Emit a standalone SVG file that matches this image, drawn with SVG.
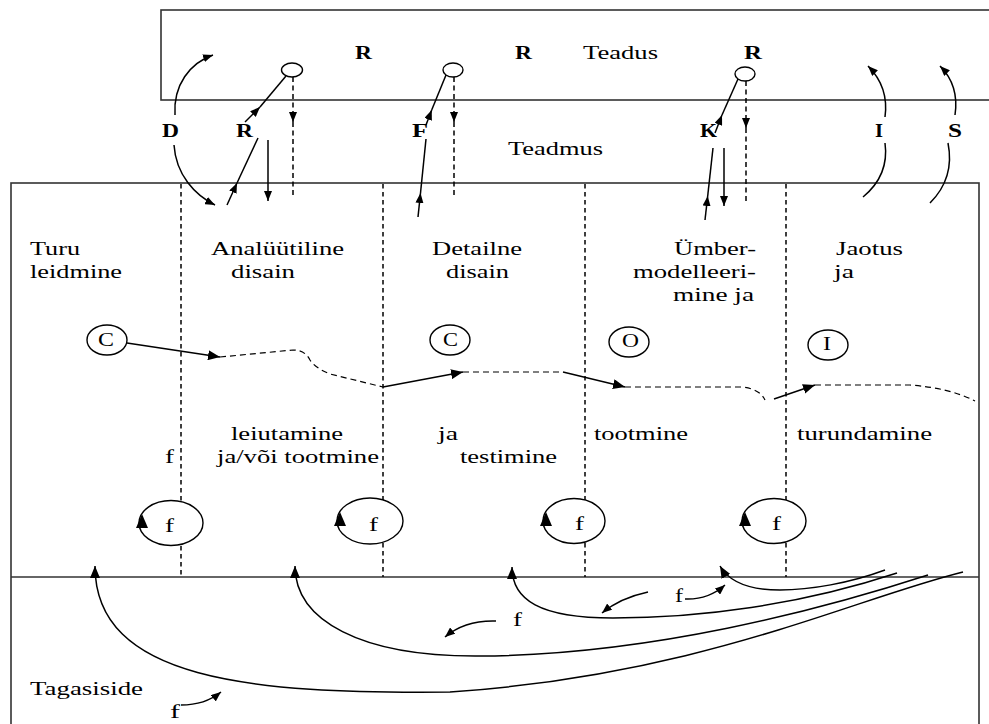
<svg xmlns="http://www.w3.org/2000/svg" width="989" height="724" viewBox="0 0 989 724" font-family="'Liberation Serif', 'Times New Roman', 'DejaVu Serif', serif">
<style>
text{font-family:'Liberation Serif','Times New Roman','DejaVu Serif',serif;font-size:19px;fill:#000}
.b{font-weight:bold}
.box{fill:none;stroke:#333;stroke-width:1.6}
.ln{fill:none;stroke:#000;stroke-width:1.5}
.dl{fill:none;stroke:#000;stroke-width:1.5;stroke-dasharray:5,3.5}
.dc{fill:none;stroke:#000;stroke-width:1.2;stroke-dasharray:6,4}
.sep{fill:none;stroke:#000;stroke-width:1.5;stroke-dasharray:4.5,3.5}
.el{fill:#fff;stroke:#000;stroke-width:1.4}
.tri{fill:#000}
</style>
<defs>
<marker id="ah" viewBox="0 0 12 10" refX="12" refY="5" markerWidth="12" markerHeight="10" markerUnits="userSpaceOnUse" orient="auto"><path d="M0,0 L12,5 L0,10 z" fill="#000" stroke="none"/></marker>
<marker id="as" viewBox="0 0 10 8" refX="10" refY="4" markerWidth="10" markerHeight="8" markerUnits="userSpaceOnUse" orient="auto"><path d="M0,0 L10,4 L0,8 z" fill="#000" stroke="none"/></marker>
</defs>
<rect width="989" height="724" fill="#fff"/>

<g id="science">
<rect class="box" x="161" y="10" width="850" height="90"/>
<text x="583" y="59" textLength="75" lengthAdjust="spacingAndGlyphs">Teadus</text>
<text class="b" x="355" y="59" textLength="17" lengthAdjust="spacingAndGlyphs">R</text>
<text class="b" x="515" y="59" textLength="17" lengthAdjust="spacingAndGlyphs">R</text>
<text class="b" x="744" y="59" textLength="18" lengthAdjust="spacingAndGlyphs">R</text>
</g>

<g id="knowledge">
<text x="508" y="155" textLength="95" lengthAdjust="spacingAndGlyphs">Teadmus</text>
</g>

<g id="main-frame">
<rect class="box" x="11" y="183" width="968" height="580"/>
<line class="box" x1="11" y1="577" x2="979" y2="577"/>
</g>

<g id="stage-separators">
<line class="sep" x1="181" y1="184" x2="181" y2="501"/>
<line class="sep" x1="181" y1="546" x2="181" y2="577"/>
<line class="sep" x1="383" y1="184" x2="383" y2="500"/>
<line class="sep" x1="383" y1="543" x2="383" y2="577"/>
<line class="sep" x1="585" y1="184" x2="585" y2="500"/>
<line class="sep" x1="585" y1="543" x2="585" y2="577"/>
<line class="sep" x1="786" y1="184" x2="786" y2="500"/>
<line class="sep" x1="786" y1="543" x2="786" y2="577"/>
</g>

<g id="stage-market">
<text x="30" y="255" textLength="50" lengthAdjust="spacingAndGlyphs">Turu</text>
<text x="30" y="278" textLength="92" lengthAdjust="spacingAndGlyphs">leidmine</text>
<ellipse class="el" cx="107" cy="340" rx="20" ry="15"/>
<text x="98" y="346" textLength="16" lengthAdjust="spacingAndGlyphs">C</text>
<text x="165" y="463" textLength="9" lengthAdjust="spacingAndGlyphs">f</text>
</g>

<g id="stage-analytic">
<text x="211" y="255" textLength="133" lengthAdjust="spacingAndGlyphs">Analüütiline</text>
<text x="231" y="278" textLength="64" lengthAdjust="spacingAndGlyphs">disain</text>
<text x="231" y="440" textLength="112" lengthAdjust="spacingAndGlyphs">leiutamine</text>
<text x="217" y="463" textLength="162" lengthAdjust="spacingAndGlyphs">ja/või tootmine</text>
</g>

<g id="stage-detail">
<text x="432" y="255" textLength="90" lengthAdjust="spacingAndGlyphs">Detailne</text>
<text x="446" y="278" textLength="63" lengthAdjust="spacingAndGlyphs">disain</text>
<ellipse class="el" cx="450" cy="340" rx="20" ry="15"/>
<text x="443" y="346" textLength="15" lengthAdjust="spacingAndGlyphs">C</text>
<text x="438" y="440" textLength="20" lengthAdjust="spacingAndGlyphs">ja</text>
<text x="460" y="463" textLength="97" lengthAdjust="spacingAndGlyphs">testimine</text>
</g>

<g id="stage-redesign">
<text x="674" y="255" textLength="82" lengthAdjust="spacingAndGlyphs">Ümber-</text>
<text x="633" y="278" textLength="123" lengthAdjust="spacingAndGlyphs">modelleeri-</text>
<text x="673" y="301" textLength="81" lengthAdjust="spacingAndGlyphs">mine ja</text>
<ellipse class="el" cx="629" cy="342" rx="20" ry="15"/>
<text x="622" y="347" textLength="17" lengthAdjust="spacingAndGlyphs">O</text>
<text x="594" y="440" textLength="94" lengthAdjust="spacingAndGlyphs">tootmine</text>
</g>

<g id="stage-distribution">
<text x="836" y="255" textLength="67" lengthAdjust="spacingAndGlyphs">Jaotus</text>
<text x="834" y="278" textLength="20" lengthAdjust="spacingAndGlyphs">ja</text>
<ellipse class="el" cx="828" cy="345" rx="20" ry="15"/>
<text x="823" y="350" textLength="8" lengthAdjust="spacingAndGlyphs">I</text>
<text x="797" y="440" textLength="135" lengthAdjust="spacingAndGlyphs">turundamine</text>
</g>

<g id="loop-1">
<ellipse class="el" cx="171" cy="523" rx="32" ry="22.5"/>
<path class="tri" d="M142,514 L148,528 L136,528 z"/>
<text x="165" y="532" textLength="9" lengthAdjust="spacingAndGlyphs">f</text>
</g>
<g id="loop-2">
<ellipse class="el" cx="370" cy="521" rx="33" ry="23"/>
<path class="tri" d="M340,512 L346,526 L334,526 z"/>
<text x="369" y="531" textLength="9" lengthAdjust="spacingAndGlyphs">f</text>
</g>
<g id="loop-3">
<ellipse class="el" cx="574" cy="521" rx="31" ry="22.5"/>
<path class="tri" d="M546,512 L552,526 L540,526 z"/>
<text x="575" y="530" textLength="9" lengthAdjust="spacingAndGlyphs">f</text>
</g>
<g id="loop-4">
<ellipse class="el" cx="774" cy="521" rx="32" ry="22.5"/>
<path class="tri" d="M745,512 L751,526 L739,526 z"/>
<text x="772" y="530" textLength="9" lengthAdjust="spacingAndGlyphs">f</text>
</g>

<g id="research-links">
<ellipse class="el" cx="292" cy="70" rx="10.5" ry="7"/>
<ellipse class="el" cx="453" cy="70" rx="10" ry="7"/>
<ellipse class="el" cx="745" cy="74" rx="10" ry="7"/>
<text class="b" x="162" y="137" textLength="17" lengthAdjust="spacingAndGlyphs">D</text>
<text class="b" x="236" y="137" textLength="17" lengthAdjust="spacingAndGlyphs">R</text>
<text class="b" x="412" y="137" textLength="16" lengthAdjust="spacingAndGlyphs">F</text>
<text class="b" x="700" y="137" textLength="17" lengthAdjust="spacingAndGlyphs">K</text>
<text class="b" x="875" y="137" textLength="8" lengthAdjust="spacingAndGlyphs">I</text>
<text class="b" x="948" y="137" textLength="14" lengthAdjust="spacingAndGlyphs">S</text>
</g>

<g id="connectors">
<path class="ln" d="M175,115 C173,85 190,63 213,55" marker-end="url(#as)"/>
<path class="ln" d="M174,145 C176,175 195,195 215,205" marker-end="url(#as)"/>
<line class="ln" x1="227" y1="205" x2="237" y2="183" marker-end="url(#as)"/>
<line class="ln" x1="237" y1="183" x2="258" y2="138"/>
<line class="ln" x1="245" y1="122" x2="260" y2="107" marker-end="url(#as)"/>
<line class="ln" x1="260" y1="107" x2="286" y2="76"/>
<line class="ln" x1="268" y1="140" x2="268" y2="201" marker-end="url(#as)"/>
<line class="dl" x1="293" y1="77" x2="293" y2="122" marker-end="url(#as)"/>
<line class="dl" x1="293" y1="122" x2="293" y2="195"/>
<line class="ln" x1="418" y1="217" x2="420.5" y2="193" marker-end="url(#as)"/>
<line class="ln" x1="420.5" y1="193" x2="426" y2="139"/>
<line class="ln" x1="426" y1="125" x2="431.7" y2="110" marker-end="url(#as)"/>
<line class="ln" x1="431.7" y1="110" x2="446" y2="75"/>
<line class="dl" x1="454" y1="77" x2="454" y2="122" marker-end="url(#as)"/>
<line class="dl" x1="454" y1="122" x2="454" y2="197"/>
<line class="ln" x1="705" y1="220" x2="707.7" y2="196" marker-end="url(#as)"/>
<line class="ln" x1="707.7" y1="196" x2="713" y2="148"/>
<line class="ln" x1="715" y1="133" x2="722" y2="115" marker-end="url(#as)"/>
<line class="ln" x1="722" y1="115" x2="738" y2="79"/>
<line class="ln" x1="724" y1="148" x2="724" y2="206" marker-end="url(#as)"/>
<line class="dl" x1="746" y1="81" x2="746" y2="128" marker-end="url(#as)"/>
<line class="dl" x1="746" y1="128" x2="746" y2="202"/>
<path class="ln" d="M885,117 C888,95 880,78 868,66" marker-end="url(#as)"/>
<path class="ln" d="M885,143 C888,165 880,183 863,197"/>
<path class="ln" d="M955,115 C958,95 952,78 940,66" marker-end="url(#as)"/>
<path class="ln" d="M948,143 C953,168 945,188 930,203"/>

<line class="ln" x1="127" y1="343" x2="220" y2="357" marker-end="url(#ah)"/>
<path class="dc" d="M220,357 L293,350 Q305,350 310,360 Q315,368 330,374 L383,387"/>
<line class="ln" x1="383" y1="387" x2="463" y2="372" marker-end="url(#ah)"/>
<line class="dc" x1="463" y1="372" x2="563" y2="372"/>
<line class="ln" x1="563" y1="372" x2="625" y2="387" marker-end="url(#ah)"/>
<path class="dc" d="M625,387 L742,387 Q760,389 765,400"/>
<line class="ln" x1="774" y1="399" x2="815" y2="385" marker-end="url(#ah)"/>
<path class="dc" d="M815,385 L910,385 Q950,388 975,401"/>

<path class="ln" d="M963,572 C850,600 700,675 450,692 C250,694 95,680 95,566" marker-end="url(#ah)"/>
<path class="ln" d="M928,575 C820,610 650,655 480,656 C360,657 295,620 295,566" marker-end="url(#ah)"/>
<path class="ln" d="M897,573 C800,605 700,618 613,618 C540,618 512,600 512,567" marker-end="url(#ah)"/>
<path class="ln" d="M885,570 C850,583 810,590 780,590 C745,590 728,580 720,566" marker-end="url(#ah)"/>

<path class="ln" d="M685,599 Q708,600 725,585" marker-end="url(#as)"/>
<path class="ln" d="M648,592 Q620,598 602,613" marker-end="url(#as)"/>
<path class="ln" d="M496,621 Q465,620 445,637" marker-end="url(#as)"/>
<path class="ln" d="M181,705 Q205,705 221,692" marker-end="url(#as)"/>
</g>

<g id="feedback-labels">
<text x="675" y="602" textLength="8" lengthAdjust="spacingAndGlyphs">f</text>
<text x="513" y="626" textLength="9" lengthAdjust="spacingAndGlyphs">f</text>
<text x="170" y="718" textLength="10" lengthAdjust="spacingAndGlyphs">f</text>
<text x="30" y="695" textLength="113" lengthAdjust="spacingAndGlyphs">Tagasiside</text>
</g>
</svg>
